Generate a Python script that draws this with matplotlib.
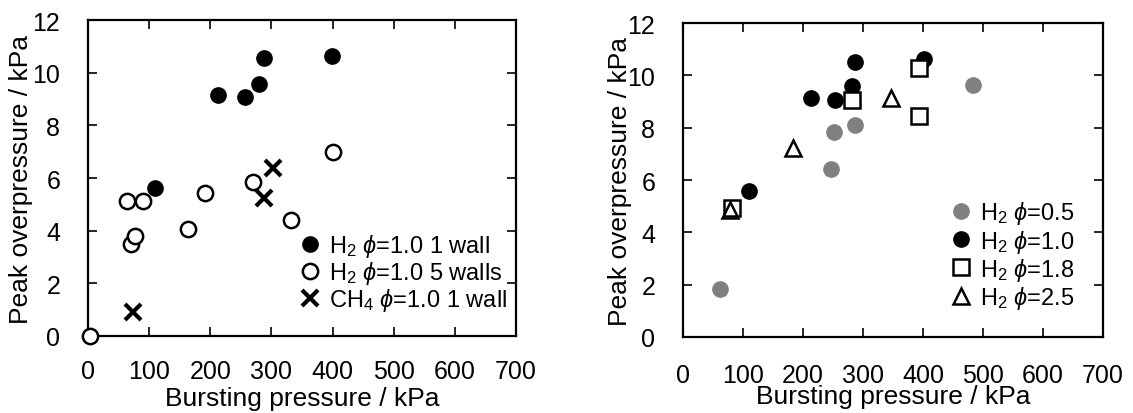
import matplotlib
matplotlib.use("Agg")
import matplotlib.pyplot as plt

plt.rcParams['font.family'] = ['Liberation Sans', 'DejaVu Sans']
plt.rcParams['mathtext.fontset'] = 'custom'
plt.rcParams['mathtext.rm'] = 'Liberation Sans'
plt.rcParams['mathtext.it'] = 'Liberation Sans:italic'

# left panel: H2 / CH4, 1 wall vs 5 walls
h2_1wall_x = [213, 257, 279, 287, 399, 109]
h2_1wall_y = [9.16, 9.09, 9.59, 10.55, 10.62, 5.61]
h2_5walls_x = [4, 63, 90, 71, 77, 164, 192, 269, 332, 400]
h2_5walls_y = [0.0, 5.13, 5.11, 3.49, 3.78, 4.06, 5.45, 5.86, 4.40, 7.00]
ch4_x = [74, 303, 287]
ch4_y = [0.93, 6.40, 5.26]

# right panel: H2 at different equivalence ratios
phi05_x = [62, 247, 252, 286, 483]
phi05_y = [1.82, 6.42, 7.85, 8.12, 9.64]
phi10_x = [213, 254, 281, 287, 401, 110]
phi10_y = [9.13, 9.07, 9.58, 10.51, 10.62, 5.60]
phi18_x = [81, 282, 393, 393]
phi18_y = [4.95, 9.06, 10.27, 8.44]
phi25_x = [79, 183, 346]
phi25_y = [4.85, 7.23, 9.13]

xticks = [0, 100, 200, 300, 400, 500, 600, 700]
yticks = [0, 2, 4, 6, 8, 10, 12]

fig = plt.figure(figsize=(11.33, 4.14), dpi=100)
ax1 = fig.add_axes([0.0777, 0.186, 0.3778, 0.763])
ax2 = fig.add_axes([0.6028, 0.1836, 0.3707, 0.758])

ms = 11
ax1.plot(h2_1wall_x, h2_1wall_y, 'o', ms=ms, mfc='black', mec='black',
         ls='none', clip_on=False, label=r'H$_2$ $\phi$=1.0 1 wall')
ax1.plot(h2_5walls_x, h2_5walls_y, 'o', ms=ms, mfc='white', mec='black', mew=1.8,
         ls='none', clip_on=False, zorder=3, label=r'H$_2$ $\phi$=1.0 5 walls')
ax1.plot(ch4_x, ch4_y, 'x', ms=ms, mec='black', mew=3,
         ls='none', clip_on=False, label=r'CH$_4$ $\phi$=1.0 1 wall')

gray = '#808080'
ax2.plot(phi05_x, phi05_y, 'o', ms=ms, mfc=gray, mec=gray, ls='none',
         label=r'H$_2$ $\phi$=0.5')
ax2.plot(phi10_x, phi10_y, 'o', ms=ms, mfc='black', mec='black', ls='none',
         label=r'H$_2$ $\phi$=1.0')
ax2.plot(phi18_x, phi18_y, 's', ms=ms, mfc='white', mec='black', mew=1.8, ls='none',
         label=r'H$_2$ $\phi$=1.8')
ax2.plot(phi25_x, phi25_y, '^', ms=ms, mfc='none', mec='black', mew=1.8, ls='none',
         label=r'H$_2$ $\phi$=2.5')

for ax in (ax1, ax2):
    ax.set_xlim(0, 700)
    ax.set_ylim(0, 12)
    ax.set_xticks(xticks)
    ax.set_yticks(yticks)
    ax.tick_params(axis='both', direction='in', top=True, right=True,
                   length=6.5, width=1.2, labelsize=18)
    ax.tick_params(axis='y', pad=20)
    for s in ax.spines.values():
        s.set_linewidth(1.6)
    ax.set_xlabel('Bursting pressure / kPa', fontsize=19)
    ax.set_ylabel('Peak overpressure / kPa', fontsize=19)

ax1.tick_params(axis='x', pad=16.5)
ax2.tick_params(axis='x', pad=18.7)

ax1.yaxis.set_label_coords(-0.1285, 0.5)
ax2.yaxis.set_label_coords(-0.121, 0.5)
ax1.xaxis.set_label_coords(0.5, -0.158)
ax2.xaxis.set_label_coords(0.5, -0.150)

ax1.legend(loc='lower left', bbox_to_anchor=(0.497, 0.072), frameon=False,
           fontsize=17, borderpad=0, borderaxespad=0, handlelength=0.8,
           handletextpad=0.4, labelspacing=0.0)
ax2.legend(loc='lower left', bbox_to_anchor=(0.64, 0.083), frameon=False,
           fontsize=17, borderpad=0, borderaxespad=0, handlelength=0.8,
           handletextpad=0.4, labelspacing=0.05)

fig.savefig('out.png', dpi=100)
